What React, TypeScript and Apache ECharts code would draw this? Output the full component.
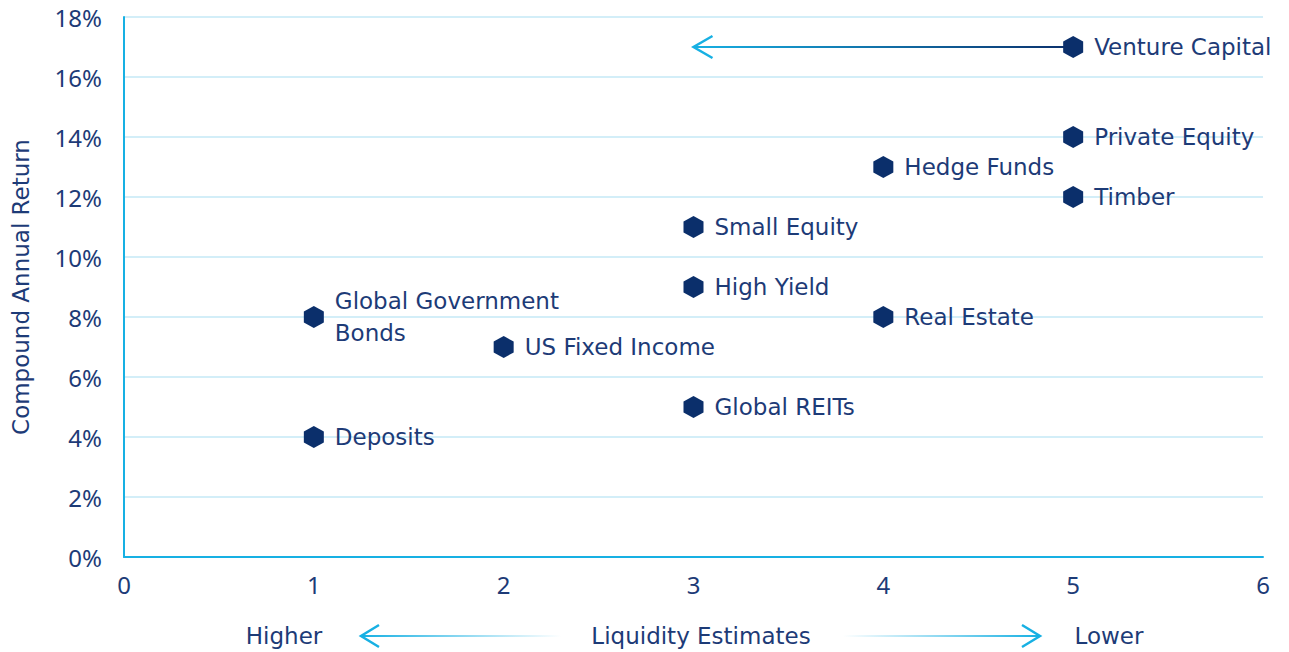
import React, { useEffect, useRef } from "react";
import * as echarts from "echarts";

const assetNames = [
  "Venture Capital",
  "Private Equity",
  "Hedge Funds",
  "Timber",
  "Small Equity",
  "High Yield",
  "Real Estate",
  "Global Government\nBonds",
  "US Fixed Income",
  "Global REITs",
  "Deposits",
];
const liquidity = [5, 5, 4, 5, 3, 3, 4, 1, 2, 3, 1];
const annualReturn = [17, 14, 13, 12, 11, 9, 8, 8, 7, 5, 4];
const arrowFrom = [5, 17];
const arrowTo = [3, 17];
const xTicks = [0, 1, 2, 3, 4, 5, 6];
const yTicks = [0, 2, 4, 6, 8, 10, 12, 14, 16, 18];

const NAVY = "#0b2f6b";
const TEXT = "#1d3b77";
const CYAN = "#17b0e3";
const GRID = "#d3eef8";
const FONT = "Noto Sans";
const WIDE = "DejaVu Sans";
const HEX = "path://M0,-10 L8.66,-5 L8.66,5 L0,10 L-8.66,5 L-8.66,-5 Z";

export default function App() {
  const ref = useRef<HTMLDivElement>(null);
  useEffect(() => {
    if (!ref.current) return;
    const chart = echarts.init(ref.current, undefined, { renderer: "svg" });
    const points = assetNames.map((n, i) => ({ name: n, value: [liquidity[i], annualReturn[i]] }));
    const bottomY = 636;
    chart.setOption({
      animation: false,
      textStyle: { fontFamily: FONT },
      grid: { left: 124, right: 26, top: 17, bottom: 95, outerBoundsMode: "none", containLabel: false },
      xAxis: {
        type: "value",
        min: xTicks[0],
        max: xTicks[xTicks.length - 1],
        interval: 1,
        axisLine: { show: true, lineStyle: { color: CYAN, width: 2 } },
        axisTick: { show: false },
        splitLine: { show: false },
        axisLabel: { color: TEXT, fontSize: 24, margin: 15, fontFamily: FONT },
      },
      yAxis: {
        type: "value",
        min: yTicks[0],
        max: yTicks[yTicks.length - 1],
        interval: 2,
        name: "Compound Annual Return",
        nameLocation: "middle",
        nameGap: 92,
        nameTextStyle: { color: TEXT, fontSize: 23, fontFamily: WIDE },
        axisLine: { show: true, lineStyle: { color: CYAN, width: 2 } },
        axisTick: { show: false },
        splitLine: { show: true, lineStyle: { color: GRID, width: 2 } },
        axisLabel: { color: TEXT, fontSize: 24, margin: 22, formatter: "{value}%", fontFamily: FONT },
      },
      series: [
        {
          type: "custom",
          coordinateSystem: "cartesian2d",
          data: [[arrowFrom[0], arrowFrom[1], arrowTo[0], arrowTo[1]]],
          z: 1,
          renderItem: (params: any, api: any) => {
            const a = api.coord([api.value(0), api.value(1)]);
            const b = api.coord([api.value(2), api.value(3)]);
            const grad = new echarts.graphic.LinearGradient(
              b[0], b[1], a[0], a[1],
              [
                { offset: 0, color: CYAN },
                { offset: 1, color: NAVY },
              ],
              true
            );
            return {
              type: "group",
              children: [
                { type: "rect", shape: { x: b[0], y: b[1] - 1, width: a[0] - b[0], height: 2 }, style: { fill: grad } },
                {
                  type: "polyline",
                  shape: { points: [[b[0] + 19, b[1] - 11], [b[0], b[1]], [b[0] + 19, b[1] + 11]] },
                  style: { stroke: CYAN, lineWidth: 2.5, fill: "none" },
                },
              ],
            };
          },
        },
        {
          type: "scatter",
          data: points,
          symbol: HEX,
          symbolSize: [20, 22],
          itemStyle: { color: NAVY, opacity: 1 },
          z: 3,
          label: {
            show: true,
            position: "right",
            distance: 11,
            formatter: "{b}",
            color: TEXT,
            fontSize: 23,
            lineHeight: 32,
            fontFamily: WIDE,
          },
        },
      ],
      graphic: [
        { type: "text", x: 284, y: bottomY, style: { text: "Higher", fill: TEXT, fontSize: 23, fontFamily: WIDE, align: "center", verticalAlign: "middle" } },
        { type: "text", x: 701, y: bottomY, style: { text: "Liquidity Estimates", fill: TEXT, fontSize: 23, fontFamily: WIDE, align: "center", verticalAlign: "middle" } },
        { type: "text", x: 1109, y: bottomY, style: { text: "Lower", fill: TEXT, fontSize: 23, fontFamily: WIDE, align: "center", verticalAlign: "middle" } },
        {
          type: "rect",
          shape: { x: 361, y: bottomY - 1, width: 200, height: 2 },
          style: {
            fill: new echarts.graphic.LinearGradient(0, 0, 1, 0, [
              { offset: 0, color: CYAN },
              { offset: 1, color: "rgba(23,176,227,0)" },
            ]),
          },
        },
        {
          type: "polyline",
          shape: { points: [[379, bottomY - 11], [361, bottomY], [379, bottomY + 11]] },
          style: { stroke: CYAN, lineWidth: 2.5, fill: "none" },
        },
        {
          type: "rect",
          shape: { x: 843, y: bottomY - 1, width: 197, height: 2 },
          style: {
            fill: new echarts.graphic.LinearGradient(0, 0, 1, 0, [
              { offset: 0, color: "rgba(23,176,227,0)" },
              { offset: 1, color: CYAN },
            ]),
          },
        },
        {
          type: "polyline",
          shape: { points: [[1022, bottomY - 11], [1040, bottomY], [1022, bottomY + 11]] },
          style: { stroke: CYAN, lineWidth: 2.5, fill: "none" },
        },
      ],
    });
    return () => chart.dispose();
  }, []);
  return (
    <div
      ref={ref}
      style={{ position: "fixed", left: 0, top: 0, width: 1289, height: 652, background: "#fff" }}
    />
  );
}
